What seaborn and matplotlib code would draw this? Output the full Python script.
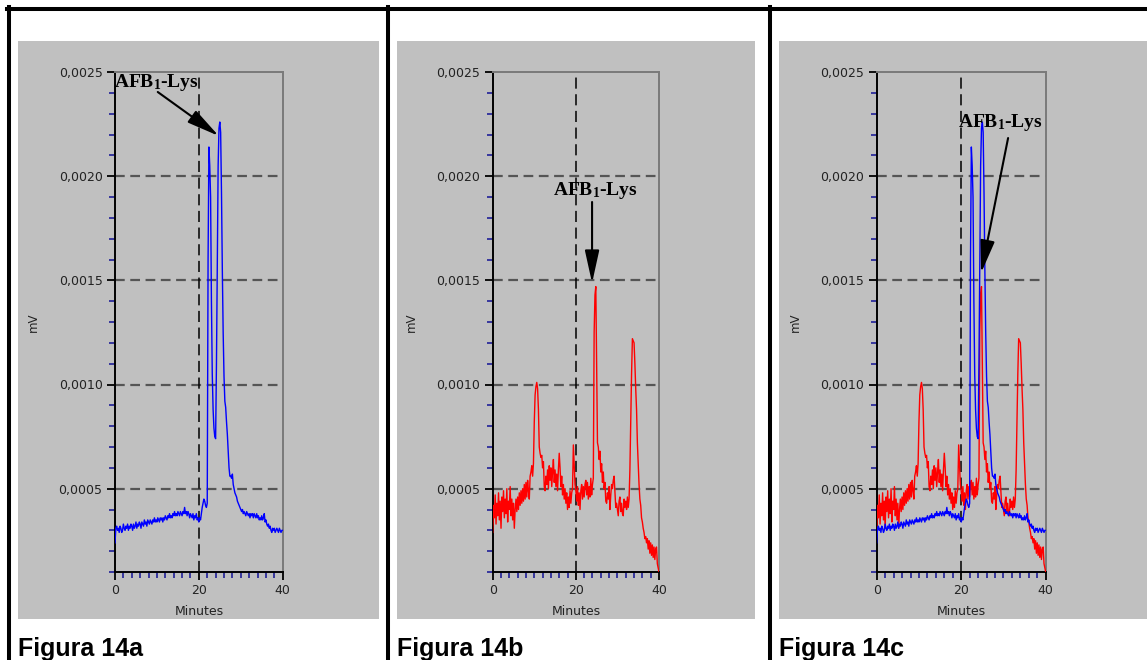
import numpy as np
import pandas as pd
import matplotlib
matplotlib.use("Agg")
import matplotlib.pyplot as plt
import seaborn as sns
from matplotlib.patches import Rectangle
from matplotlib.lines import Line2D

# ---------------- data ----------------
minutes = np.round(np.arange(201) * 0.2, 1)

blue_mv = [
    0.00024, 0.00031, 0.00032, 0.00030, 0.00031, 0.00029, 0.00032, 0.00031, 0.00029, 0.00030,
    0.00033, 0.00031, 0.00030, 0.00032, 0.00031, 0.00033, 0.00030, 0.00032, 0.00031, 0.00033,
    0.00032, 0.00030, 0.00033, 0.00031, 0.00032, 0.00034, 0.00031, 0.00033, 0.00032, 0.00034,
    0.00033, 0.00031, 0.00034, 0.00033, 0.00032, 0.00035, 0.00033, 0.00034, 0.00032, 0.00035,
    0.00034, 0.00033, 0.00035, 0.00034, 0.00033, 0.00035, 0.00034, 0.00036, 0.00034, 0.00035,
    0.00034, 0.00036, 0.00035, 0.00034, 0.00036, 0.00035, 0.00036, 0.00034, 0.00036, 0.00035,
    0.00037, 0.00036, 0.00035, 0.00037, 0.00036, 0.00038, 0.00036, 0.00037, 0.00036, 0.00038,
    0.00037, 0.00039, 0.00037, 0.00038, 0.00037, 0.00039, 0.00038, 0.00037, 0.00039, 0.00038,
    0.00037, 0.00039, 0.00038, 0.00041, 0.00038, 0.00039, 0.00037, 0.00039, 0.00038, 0.00036,
    0.00038, 0.00037, 0.00036, 0.00038, 0.00035, 0.00037, 0.00036, 0.00038, 0.00035, 0.00036,
    0.00034, 0.00036, 0.00035, 0.00038, 0.00041, 0.00043, 0.00045, 0.00044, 0.00042, 0.00041,
    0.00043, 0.00160, 0.00214, 0.00205, 0.00190, 0.00140, 0.00105, 0.00088, 0.00079, 0.00075,
    0.00074, 0.00110, 0.00160, 0.00205, 0.00223, 0.00226, 0.00221, 0.00192, 0.00155, 0.00125,
    0.00104, 0.00092, 0.00089, 0.00082, 0.00076, 0.00068, 0.00060, 0.00056, 0.00056, 0.00055,
    0.00057, 0.00052, 0.00050, 0.00048, 0.00047, 0.00046, 0.00044, 0.00043, 0.00042, 0.00041,
    0.00040, 0.00039, 0.00040, 0.00038, 0.00039, 0.00038, 0.00037, 0.00039, 0.00038, 0.00037,
    0.00038, 0.00036, 0.00038, 0.00037, 0.00038, 0.00036, 0.00038, 0.00037, 0.00036, 0.00038,
    0.00036, 0.00037, 0.00035, 0.00036, 0.00035, 0.00037, 0.00035, 0.00036, 0.00038, 0.00034,
    0.00035, 0.00033, 0.00032, 0.00033, 0.00031, 0.00032, 0.00030, 0.00029, 0.00031, 0.00030,
    0.00031, 0.00029, 0.00030, 0.00031, 0.00030, 0.00029, 0.00031, 0.00030, 0.00029, 0.00030,
    0.00030,
]

red_mv = [
    0.00029, 0.00042, 0.00036, 0.00047, 0.00033, 0.00043, 0.00037, 0.00048, 0.00035, 0.00044,
    0.00031, 0.00046, 0.00039, 0.00049, 0.00036, 0.00045, 0.00038, 0.00050, 0.00034, 0.00044,
    0.00040, 0.00051, 0.00037, 0.00045, 0.00035, 0.00043, 0.00031, 0.00040, 0.00045, 0.00039,
    0.00046, 0.00040, 0.00048, 0.00042, 0.00049, 0.00043, 0.00050, 0.00044, 0.00052, 0.00045,
    0.00053, 0.00046, 0.00054, 0.00049, 0.00045, 0.00056, 0.00058, 0.00061, 0.00056, 0.00062,
    0.00082, 0.00095, 0.00099, 0.00101, 0.00098, 0.00088, 0.00070, 0.00067, 0.00065, 0.00066,
    0.00060, 0.00063, 0.00051, 0.00049, 0.00056, 0.00052, 0.00059, 0.00050, 0.00061, 0.00054,
    0.00060, 0.00051, 0.00058, 0.00064, 0.00053, 0.00059, 0.00051, 0.00057, 0.00049, 0.00059,
    0.00067, 0.00060, 0.00051, 0.00056, 0.00047, 0.00052, 0.00045, 0.00050, 0.00043, 0.00048,
    0.00040, 0.00046, 0.00041, 0.00049, 0.00043, 0.00048, 0.00050, 0.00071, 0.00062, 0.00052,
    0.00049, 0.00044, 0.00051, 0.00042, 0.00048, 0.00040, 0.00049, 0.00052, 0.00045, 0.00051,
    0.00046, 0.00052, 0.00054, 0.00047, 0.00053, 0.00045, 0.00051, 0.00046, 0.00055, 0.00047,
    0.00052, 0.00055, 0.00125, 0.00143, 0.00147, 0.00108, 0.00072, 0.00070, 0.00064, 0.00068,
    0.00058, 0.00062, 0.00053, 0.00058, 0.00050, 0.00053, 0.00044, 0.00043, 0.00048, 0.00045,
    0.00051, 0.00040, 0.00047, 0.00052, 0.00050, 0.00054, 0.00056, 0.00048, 0.00041, 0.00043,
    0.00040, 0.00037, 0.00044, 0.00046, 0.00039, 0.00043, 0.00038, 0.00037, 0.00045, 0.00041,
    0.00044, 0.00040, 0.00046, 0.00041, 0.00045, 0.00059, 0.00082, 0.00105, 0.00122, 0.00121,
    0.00120, 0.00110, 0.00098, 0.00088, 0.00072, 0.00062, 0.00052, 0.00045, 0.00042, 0.00036,
    0.00034, 0.00031, 0.00029, 0.00026, 0.00027, 0.00024, 0.00026, 0.00021, 0.00025, 0.00019,
    0.00024, 0.00018, 0.00023, 0.00017, 0.00022, 0.00016, 0.00021, 0.00022, 0.00014, 0.00012,
    0.00010,
]

y_major = [0.0005, 0.0010, 0.0015, 0.0020, 0.0025]
y_labels = ["0,0005", "0,0010", "0,0015", "0,0020", "0,0025"]
y_grid = [0.0005, 0.0010, 0.0015, 0.0020]
x_major = [0, 20, 40]
x_labels = ["0", "20", "40"]
x_marker_line = 20
panel_titles = ["Figura 14a", "Figura 14b", "Figura 14c"]
peak_label = "AFB$_{1}$-Lys"
x_title = "Minutes"
y_title = "mV"

# annotation anchors (data units): text baseline, arrow tail, arrow tip
annot_text = [(9.9, 0.002426), (24.8, 0.00191), (29.2, 0.002237)]
annot_tail = [(10.2, 0.002404), (23.9, 0.001876), (31.1, 0.002183)]
annot_tip = [(24.76, 0.002193), (23.9, 0.001487), (24.7, 0.001535)]

df = pd.DataFrame({"Minutes": minutes, "blue": blue_mv, "red": red_mv})

# ---------------- style ----------------
plt.rcParams["lines.scale_dashes"] = False
plt.rcParams["mathtext.fontset"] = "custom"
plt.rcParams["mathtext.rm"] = "Liberation Serif:bold"
plt.rcParams["mathtext.bf"] = "Liberation Serif:bold"
plt.rcParams["mathtext.it"] = "Liberation Serif:bold"
plt.rcParams["font.family"] = ["DejaVu Sans"]

W, H = 1147, 660
fig = plt.figure(figsize=(W / 100, H / 100), dpi=100)


def fx(x):
    return x / W


def fy(y):
    return 1 - y / H


GREY = "#c0c0c0"
TXT = "#222222"
MINOR = "#202098"

# grey panel backgrounds
for x0, x1 in [(18, 379), (397, 755), (779, 1150)]:
    fig.add_artist(Rectangle((fx(x0), fy(619)), (x1 - x0) / W, (619 - 41) / H,
                             transform=fig.transFigure, facecolor=GREY,
                             edgecolor="none", zorder=-5))

# black frame lines
fig.add_artist(Line2D([fx(7), fx(1150)], [fy(9.3), fy(9.3)], transform=fig.transFigure,
                      color="black", lw=2.9, zorder=-4))
for xv in [9, 387.5, 770]:
    fig.add_artist(Line2D([fx(xv), fx(xv)], [fy(7.3), 0], transform=fig.transFigure,
                          color="black", lw=2.9, zorder=-4))

lefts = [115, 492.7, 876.7]
widths = [167.7, 166.3, 169.0]
y_minor = [v * 0.0001 for v in range(1, 25) if v % 5 != 0]
x_minor = [v for v in range(2, 40, 2) if v % 20 != 0]

for i in range(3):
    ax = fig.add_axes([fx(lefts[i]), fy(572), widths[i] / W, 500 / H])
    ax.patch.set_visible(False)

    for g in y_grid:
        ax.axhline(g, color="#555555", lw=1.6, ls=(0, (7, 4)), zorder=1)
    ax.axvline(x_marker_line, color="black", lw=1.1, ls=(0, (8, 4)), zorder=1)

    if i in (1, 2):
        sns.lineplot(data=df, x="Minutes", y="red", ax=ax, color="#ff0000", lw=1.0,
                     estimator=None, sort=False, legend=False, zorder=3)
    if i in (0, 2):
        sns.lineplot(data=df, x="Minutes", y="blue", ax=ax, color="#0000ff", lw=1.0,
                     estimator=None, sort=False, legend=False, zorder=4)

    ax.set_xlim(0, 40)
    ax.set_ylim(0.0001, 0.0025)

    ax.set_yticks(y_major, labels=y_labels)
    ax.set_yticks(y_minor, minor=True)
    ax.set_xticks(x_major, labels=x_labels)
    ax.set_xticks(x_minor, minor=True)
    ax.tick_params(which="major", direction="out", length=6, width=1.3, color="black",
                   labelsize=9, labelcolor=TXT, pad=3)
    ax.tick_params(which="minor", direction="out", length=4, width=1.2, color=MINOR)

    for s in ["left", "bottom"]:
        ax.spines[s].set_color("black")
        ax.spines[s].set_linewidth(1.4)
    for s in ["top", "right"]:
        ax.spines[s].set_color("#7a7a7a")
        ax.spines[s].set_linewidth(1.4)

    ax.set_xlabel(x_title, fontsize=9, color=TXT)
    ax.xaxis.set_label_coords(0.5, -0.066)
    ax.set_ylabel(y_title, fontsize=8.5, color=TXT)
    ax.yaxis.set_label_coords(-75 / widths[i], 0.5)

    ax.annotate("", xy=annot_tip[i], xytext=annot_tail[i],
                arrowprops=dict(arrowstyle="-|>,head_length=1.0,head_width=0.22",
                                mutation_scale=20, color="black", lw=1.5,
                                shrinkA=0, shrinkB=0),
                annotation_clip=False, zorder=6)
    ax.text(annot_text[i][0], annot_text[i][1], peak_label, ha="center", va="baseline",
            fontsize=14, family="Liberation Serif", fontweight="bold", color="black",
            clip_on=False, zorder=6)

# panel captions
for i, xpos in enumerate([18, 397, 779]):
    fig.text(fx(xpos), fy(656), panel_titles[i], fontsize=18, fontweight="bold",
             family="Liberation Sans", color="black", va="baseline", ha="left")

fig.savefig("out.png", dpi=100)
